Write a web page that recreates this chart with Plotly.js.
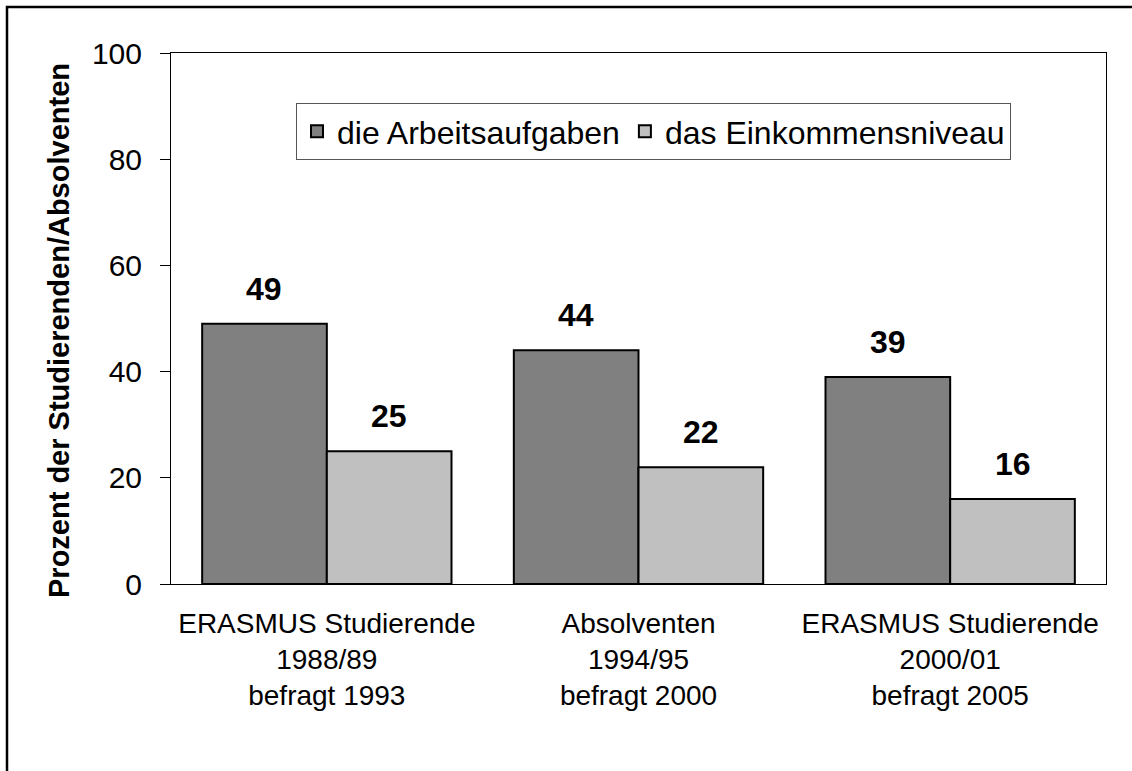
<!DOCTYPE html>
<html>
<head>
<meta charset="utf-8">
<script src="https://cdn.plot.ly/plotly-3.0.1.min.js"></script>
<style>
  html, body { margin: 0; padding: 0; background: #fff; }
  #chart { width: 1132px; height: 771px; }
</style>
</head>
<body>
<div id="chart"></div>
<script>
const categories = [
  "ERASMUS Studierende<br>1988/89<br>befragt 1993",
  "Absolventen<br>1994/95<br>befragt 2000",
  "ERASMUS Studierende<br>2000/01<br>befragt 2005"
];
const seriesNames = ["die Arbeitsaufgaben", "das Einkommensniveau"];
const arbeitsaufgaben = [49, 44, 39];
const einkommensniveau = [25, 22, 16];
const yTicks = [0, 20, 40, 60, 80, 100];
const yTitle = "Prozent der Studierenden/Absolventen";

const FONT = "Liberation Sans, Arial, Helvetica, sans-serif";
const colors = ["#808080", "#c0c0c0"];
const seriesValues = [arbeitsaufgaben, einkommensniveau];

const traces = seriesValues.map((vals, i) => ({
  type: "bar",
  name: seriesNames[i],
  x: categories,
  y: vals,
  marker: { color: colors[i], line: { color: "#000", width: 2 } },
  hoverinfo: "none"
}));

// plot area geometry (for label offsets)
const L = 171, R = 26, T = 53, B = 187, W = 1132, H = 771;
const plotW = W - L - R, plotH = H - T - B;
const catW = plotW / categories.length;
const bargap = 0.2;
const barW = catW * (1 - bargap) / 2;

const annotations = [];
seriesValues.forEach((vals, i) => {
  vals.forEach((v, j) => {
    annotations.push({
      x: categories[j], y: v, xref: "x", yref: "y",
      text: "<b>" + v + "</b>", showarrow: false,
      xshift: (i === 0 ? -1 : 1) * barW / 2,
      yanchor: "bottom", yshift: 15,
      font: { family: FONT, size: 32, color: "#000" }
    });
  });
});
annotations.push({
  xref: "paper", yref: "paper",
  x: (59 - L) / plotW, y: (H - B - 331) / plotH,
  text: "<b>" + yTitle + "</b>", textangle: -90, showarrow: false,
  xanchor: "center", yanchor: "middle",
  font: { family: FONT, size: 29, color: "#000" }
});

const layout = {
  width: W, height: H,
  margin: { l: L, r: R, t: T, b: B, pad: 0 },
  paper_bgcolor: "#fff", plot_bgcolor: "#fff",
  font: { family: FONT, color: "#000" },
  barmode: "group", bargap: bargap, bargroupgap: 0,
  showlegend: true,
  legend: {
    orientation: "h",
    x: (296 - L) / plotW, y: (H - B - 103) / plotH,
    xanchor: "left", yanchor: "top",
    bgcolor: "#fff", bordercolor: "#555", borderwidth: 1,
    font: { family: FONT, size: 32, color: "#000" },
    itemclick: false, itemdoubleclick: false
  },
  xaxis: {
    type: "category",
    showline: true, linecolor: "#000", linewidth: 1, mirror: true,
    ticks: "", showgrid: false, zeroline: false,
    tickfont: { family: FONT, size: 28, color: "#000" },
    ticklabelstandoff: 14
  },
  yaxis: {
    range: [0, 100], tickvals: yTicks, ticktext: yTicks.map(String),
    showline: true, linecolor: "#000", linewidth: 1, mirror: true,
    ticks: "outside", ticklen: 10, tickcolor: "#000", tickwidth: 1,
    showgrid: false, zeroline: false,
    tickfont: { family: FONT, size: 30, color: "#000" },
    ticklabelstandoff: 12
  },
  annotations: annotations,
  shapes: [{
    type: "rect", xref: "paper", yref: "paper",
    x0: (7 - L) / plotW, x1: (1140 - L) / plotW,
    y0: (H - B - 785) / plotH, y1: (H - B - 7) / plotH,
    line: { color: "#000", width: 2.5 }, fillcolor: "rgba(0,0,0,0)", layer: "below"
  }]
};

Plotly.newPlot("chart", traces, layout, { staticPlot: true, displayModeBar: false });
</script>
</body>
</html>
